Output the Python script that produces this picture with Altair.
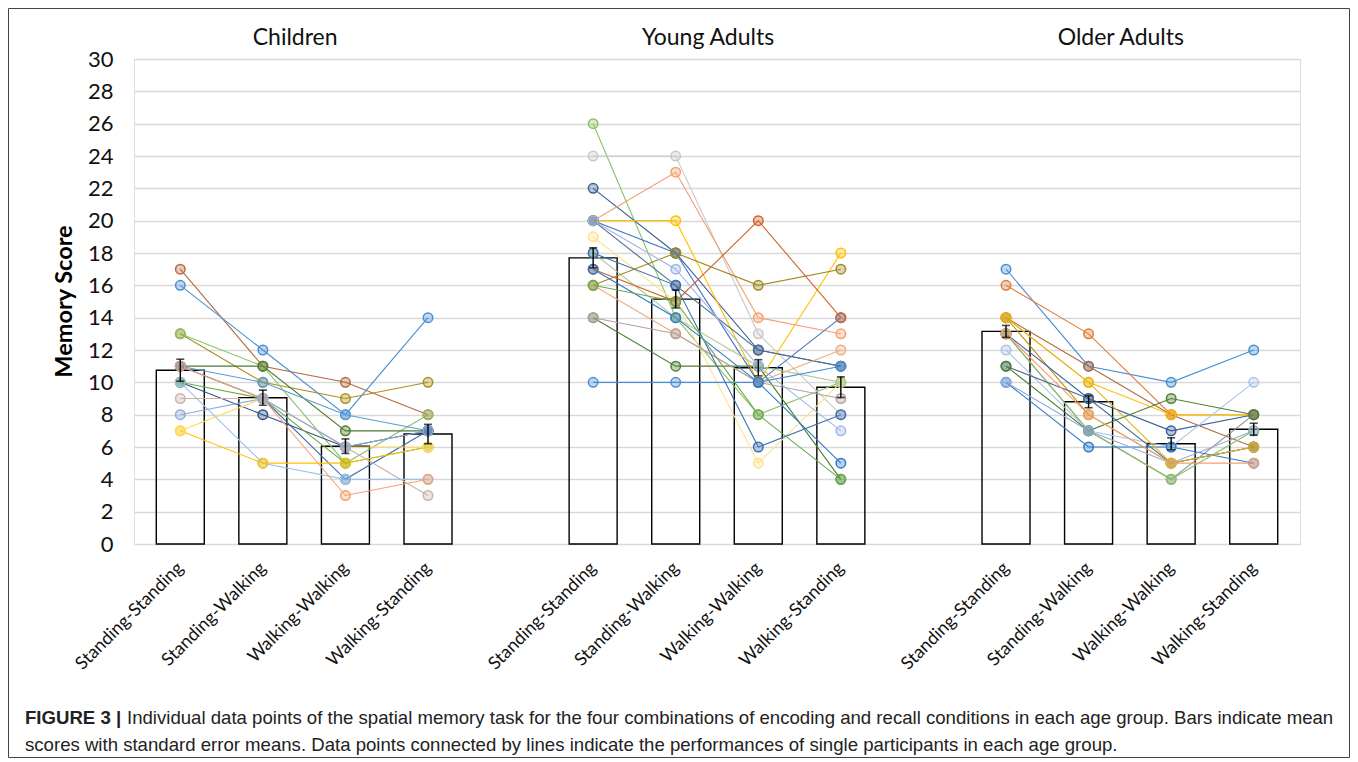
import json
import altair as alt
import pandas as pd

groups = ["Children", "Young Adults", "Older Adults"]
conditions = ["Standing-Standing", "Standing-Walking", "Walking-Walking", "Walking-Standing"]

mean_scores = {
    "Children": [10.75, 9.05, 6.05, 6.8],
    "Young Adults": [17.7, 15.15, 10.9, 9.7],
    "Older Adults": [13.15, 8.8, 6.2, 7.1],
}
se_scores = {
    "Children": [0.68, 0.47, 0.45, 0.6],
    "Young Adults": [0.62, 0.55, 0.5, 0.64],
    "Older Adults": [0.37, 0.37, 0.37, 0.37],
}

children_scores = [
    [17, 11, 10, 8], [16, 12, 8, 14], [13, 10, 9, 10], [13, 11, 5, 8],
    [11, 11, 7, 7], [11, 10, 8, 7], [11, 9, 4, 7], [10, 8, 6, 7],
    [10, 9, 5, 6], [10, 5, 4, 4], [7, 5, 5, 6], [7, 9, 6, 6],
    [9, 9, 6, 3], [11, 9, 3, 4], [8, 9, 6, 7],
]
young_scores = [
    [26, 14, 8, 10], [24, 24, 13, 8], [22, 18, 12, 11], [20, 23, 14, 13],
    [20, 20, 10, 18], [20, 18, 10, 14], [20, 16, 12, 11], [19, 15, 5, 10],
    [18, 14, 11, 10], [16, 18, 16, 17], [17, 15, 20, 14], [16, 13, 10, 12],
    [14, 11, 11, 4], [14, 13, 10, 9], [10, 10, 10, 11], [20, 17, 11, 7],
    [18, 16, 6, 8], [17, 14, 10, 5], [16, 15, 8, 4],
]
older_scores = [
    [17, 11, 10, 12], [16, 13, 8, 8], [14, 11, 8, 6], [14, 10, 8, 8],
    [14, 8, 5, 6], [13, 9, 7, 8], [13, 7, 4, 8], [13, 7, 4, 7],
    [12, 7, 6, 10], [11, 9, 5, 6], [11, 7, 9, 8], [10, 6, 6, 5],
    [10, 7, 5, 7], [13, 8, 5, 5], [14, 10, 5, 6],
]

children_colors = [
    "#B4693E", "#4A8FD4", "#A8901E", "#8CC168", "#4E7A32", "#5B9BD5", "#3A6DB5",
    "#2F4F84", "#70AD47", "#9DC3E6", "#FFC000", "#FFD966", "#C8B4AA", "#F4A071", "#8FAADC",
]
young_colors = [
    "#8CC168", "#C9C9C9", "#3B5E96", "#F4A071", "#FFC000", "#4472C4", "#4E6E8E",
    "#FFE08A", "#A9C98F", "#A08A1E", "#D0652A", "#E8B080", "#4F7F35", "#B3A1A1",
    "#4A8FD4", "#9DB7E6", "#3E6FB0", "#2E7BC8", "#6AA84F",
]
older_colors = [
    "#4A8FD4", "#E07B39", "#B4693E", "#FFC000", "#BF9000", "#3B5E96", "#8C8C8C",
    "#8CC168", "#A9C4E4", "#4E6E8E", "#4F7F35", "#2E7BC8", "#8FAADC", "#F4A071", "#E6B422",
]

caption_bold = "FIGURE 3 |"
caption_line1 = ("Individual data points of the spatial memory task for the four combinations "
                 "of encoding and recall conditions in each age group. Bars indicate mean")
caption_line2 = ("scores with standard error means. Data points connected by lines indicate "
                 "the performances of single participants in each age group.")

participant_sets = {
    "Children": (children_scores, children_colors),
    "Young Adults": (young_scores, young_colors),
    "Older Adults": (older_scores, older_colors),
}

# ---- build tables ----
bar_rows, pt_rows, title_rows = [], [], []
pid_domain, pid_range = [], []
for g, grp in enumerate(groups):
    for c, cond in enumerate(conditions):
        m = mean_scores[grp][c]
        s = se_scores[grp][c]
        bar_rows.append({"slot": g * 5 + c, "mean": m, "lo": m - s, "hi": m + s})
    title_rows.append({"slot": g * 5 + 1.5, "group": grp})
    scores, cols = participant_sets[grp]
    for i, (vals, col) in enumerate(zip(scores, cols)):
        pid = f"{grp}-{i}"
        pid_domain.append(pid)
        pid_range.append(col)
        for c, v in enumerate(vals):
            pt_rows.append({"slot": g * 5 + c, "score": v, "pid": pid})

bars_df = pd.DataFrame(bar_rows)
pts_df = pd.DataFrame(pt_rows)
titles_df = pd.DataFrame(title_rows)

FONT = "Lato"
CAP_FONT = "Liberation Sans"
W, H = 1166, 485
PAD_L, PAD_T, PAD_R, PAD_B = 126, 51, 50, 214

tick_slots = [g * 5 + c for g in range(len(groups)) for c in range(len(conditions))]
label_expr = f"{json.dumps(conditions)}[datum.value % 5]"

x_scale = alt.Scale(domain=[-0.5, 13.5], nice=False, zero=False)
y_scale = alt.Scale(domain=[0, 30], nice=False, zero=True)

x_axis = alt.Axis(values=tick_slots, labelExpr=label_expr, labelAngle=-45,
                  labelAlign="right", labelBaseline="middle", labelPadding=21,
                  labelOffset=0, labelFontSize=18, labelFont=FONT, labelColor="#111",
                  domain=False, ticks=False, grid=False, title=None, labelOverlap=False)
y_axis = alt.Axis(values=list(range(0, 31, 2)), labelFontSize=22, labelFont=FONT,
                  labelColor="#111", labelPadding=21, domain=False, ticks=False,
                  labelOverlap=False, tickCount=16,
                  grid=True, gridColor="#D9D9D9", gridWidth=1.3,
                  title="Memory Score", titleFont=FONT, titleFontSize=23.5,
                  titleFontWeight="bold", titleColor="#000", titleX=-70, titleY=242,
                  titleAngle=270, titleAlign="center", titleBaseline="middle")

X = alt.X("slot:Q", scale=x_scale, axis=x_axis)
color_scale = alt.Scale(domain=pid_domain, range=pid_range)

bars = alt.Chart(bars_df).mark_bar(size=48, fill="white", fillOpacity=0,
                                   stroke="#000", strokeWidth=1.4).encode(
    x=X,
    y=alt.Y("mean:Q", scale=y_scale, axis=y_axis),
)

lines = alt.Chart(pts_df).mark_line(strokeWidth=1.1).encode(
    x=X,
    y=alt.Y("score:Q", scale=y_scale, axis=y_axis),
    detail="pid:N",
    color=alt.Color("pid:N", scale=color_scale, legend=None),
)

points = alt.Chart(pts_df).mark_point(shape="circle", filled=True, size=90,
                                      fillOpacity=0.35, strokeWidth=1.5).encode(
    x=X,
    y=alt.Y("score:Q", scale=y_scale, axis=y_axis),
    fill=alt.Fill("pid:N", scale=color_scale, legend=None),
    stroke=alt.Stroke("pid:N", scale=color_scale, legend=None),
)

err = alt.Chart(bars_df).mark_rule(color="#000", strokeWidth=1.4).encode(
    x=X,
    y=alt.Y("lo:Q", scale=y_scale, axis=y_axis),
    y2="hi:Q",
)
cap_hi = alt.Chart(bars_df).mark_tick(orient="horizontal", size=8, thickness=1.6,
                                      color="#000").encode(
    x=X, y=alt.Y("hi:Q", scale=y_scale, axis=y_axis))
cap_lo = alt.Chart(bars_df).mark_tick(orient="horizontal", size=8, thickness=1.6,
                                      color="#000").encode(
    x=X, y=alt.Y("lo:Q", scale=y_scale, axis=y_axis))

group_titles = alt.Chart(titles_df).mark_text(font=FONT, fontSize=23, color="#111",
                                              dx=-9, baseline="middle").encode(
    x=X,
    y=alt.value(-21),
    text="group:N",
)

cap_df = pd.DataFrame([{"t": caption_bold}])
cap1_df = pd.DataFrame([{"t": caption_line1}])
cap2_df = pd.DataFrame([{"t": caption_line2}])
cap_b = alt.Chart(cap_df).mark_text(font=CAP_FONT, fontSize=18.6, fontWeight="bold",
                                    align="left", baseline="middle", color="#222").encode(
    x=alt.value(-109), y=alt.value(659), text="t:N")
cap_1 = alt.Chart(cap1_df).mark_text(font=CAP_FONT, fontSize=18.6,
                                     align="left", baseline="middle", color="#222").encode(
    x=alt.value(-7), y=alt.value(659), text="t:N")
cap_2 = alt.Chart(cap2_df).mark_text(font=CAP_FONT, fontSize=18.6,
                                     align="left", baseline="middle", color="#222").encode(
    x=alt.value(-109), y=alt.value(686), text="t:N")

frame = alt.Chart(pd.DataFrame([{"k": 1}])).mark_rect(fill=None, stroke="#444",
                                                      strokeWidth=1).encode(
    x=alt.value(-PAD_L + 0.5), x2=alt.value(W + PAD_R - 0.5),
    y=alt.value(-PAD_T + 0.5), y2=alt.value(H + PAD_B - 0.5),
)

chart = alt.layer(frame, bars, lines, points, err, cap_hi, cap_lo, group_titles,
                  cap_b, cap_1, cap_2).properties(
    width=W, height=H,
    autosize=alt.AutoSizeParams(type="none"),
    padding={"left": PAD_L, "top": PAD_T, "right": PAD_R, "bottom": PAD_B},
).configure_view(stroke=None).configure(background="white")

chart.save("out.html", embed_options={"renderer": "svg", "actions": False})
